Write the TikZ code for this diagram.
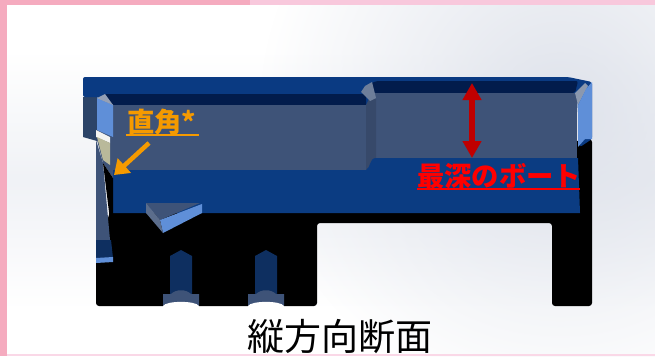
\documentclass[tikz,border=0pt]{standalone}
\usepackage{fontspec}
\newfontfamily\cjk{Noto Sans CJK JP}
\usetikzlibrary{arrows.meta,fadings}
\definecolor{pinkA}{HTML}{F5ABBF}
\definecolor{pinkB}{HTML}{F8C8DC}
\definecolor{bgGrey}{HTML}{DDE1EA}
\definecolor{rimBlue}{HTML}{0A3A82}
\definecolor{deepBlue}{HTML}{0B3C82}
\definecolor{navy}{HTML}{021C4C}
\definecolor{pocket}{HTML}{3E5378}
\definecolor{lightBlue}{HTML}{5F8FD8}
\definecolor{sideDark}{HTML}{2C4468}
\definecolor{cream}{HTML}{B9B99A}
\definecolor{boltBlue}{HTML}{0E2F60}
\definecolor{orangeT}{HTML}{F59A00}
\definecolor{redT}{HTML}{FF0000}
\definecolor{redA}{HTML}{C00000}
\tikzfading[name=softdisc, inner color=transparent!5, outer color=transparent!100]
\tikzset{
  face/.style={fill=#1, draw=none},
  label/.style={font=\cjk\bfseries\fontsize{27.3}{27.3}\selectfont, inner sep=0pt, anchor=base west},
  under/.style={line width=1.1pt},
}
\begin{document}
\begin{tikzpicture}[x=1pt,y=-1pt]
\useasboundingbox (0,0) rectangle (655,356);
% background
\fill[white] (0,0) rectangle (655,356);
\shade[top color=white, bottom color=white, middle color=bgGrey!45] (0,50) rectangle (655,310);
\begin{scope}
\clip (0,0) rectangle (655,356);
\fill[bgGrey, path fading=softdisc] (560,110) circle (300pt);
\end{scope}
% border
\fill[pinkA] (0,0) rectangle (250,5);
\fill[pinkB] (250,0) rectangle (655,5);
\fill[pinkA] (0,0) rectangle (7,356);
\fill[pinkB!70!white] (7,354) rectangle (655,356);
% black mass
\fill[black, rounded corners=3pt] (96,262) -- (113,200) -- (592,139) -- (592,306) -- (552,306) -- (552,223) -- (317,223) -- (317,306) -- (96,306) -- cycle;
\fill[black] (110,205) rectangle (592,223);
% left outer face
\fill[face=sideDark] (83,97) -- (97,97) -- (97,141) -- (83,137) -- cycle;
% top rim
\fill[face=rimBlue, rounded corners=2pt] (83,77) -- (568,77) -- (592,82) -- (592,139) -- (580,147) -- (577,95) -- (372,95) -- (372,105) -- (113,105) -- (97,97) -- (83,97) -- cycle;
% dark band of the left pocket
\fill[face=navy] (105,94) -- (366,94) -- (366,105) -- (113,105) -- cycle;
% pockets
\fill[face=pocket] (113,105) -- (372,105) -- (372,170) -- (113,170) -- cycle;
\fill[face=navy, rounded corners=2pt] (372,93) -- (370,84) -- (376,81) -- (578,81) -- (575,93) -- cycle;
\fill[face=pocket] (370,93) -- (577,93) -- (577,158) -- (370,158) -- cycle;
\fill[face=pocket!88!black] (366,105) -- (372,93) -- (376,100) -- (376,158) -- (368,170) -- (366,170) -- cycle;
\fill[face=pocket!75!white] (361,92) -- (365,86) -- (372,82) -- (376,98) -- (370,101) -- cycle;
\fill[face=pocket!60!white] (575,93) -- (585,83) -- (588,86) -- (578,105) -- cycle;
% floor
\fill[face=deepBlue] (113,170) -- (366,170) .. controls (371,168) and (369,158) .. (376,158) -- (578,158) -- (580,213) -- (113,213) -- cycle;
% right light strip
\fill[face=lightBlue] (578,105) -- (586,89) -- (592,82) -- (592,139) -- (585,139) -- (578,147) -- cycle;
% left wall pieces
\fill[face=pocket] (97,98) -- (113,105) -- (113,178) -- (103,163) -- (97,140) -- cycle;
\fill[face=lightBlue] (97,98) -- (113,105) -- (113,137) -- (97,130) -- cycle;
\fill[face=pocket!55!white] (97,98) -- (105,94) -- (113,105) -- cycle;
\fill[face=white!85!cream] (96,130) -- (110,137) -- (110,143) -- (96,137) -- cycle;
\fill[face=cream] (97,137) -- (110,143) -- (110,165) -- (103,160) -- cycle;
\fill[face=pocket] (96,140) -- (103,163) -- (110,240) -- (96,240) -- cycle;
\fill[face=black] (103,163) -- (113,178) -- (113,223) -- (110,223) -- (109,212) -- cycle;
\fill[face=boltBlue] (96,240) -- (111,240) -- (113,258) -- (96,258) -- cycle;
\fill[face=lightBlue] (96,258) -- (113,257) -- (113,262) -- (96,263) -- cycle;
% triangular insert
\fill[face=pocket] (146,203) -- (200,203) -- (160,220) -- cycle;
\fill[face=lightBlue] (160,220) -- (202,204) -- (202,213) -- (163,233) -- cycle;
\fill[face=pocket!85!white] (146,203) -- (160,220) -- (163,233) -- (146,213) -- cycle;
% screws
\foreach \c in {181,266}{
  \fill[face=boltBlue] ({\c-11},256) -- (\c,250) -- ({\c+11},256) -- ({\c+11},295) -- ({\c-11},295) -- cycle;
  \fill[face=pocket] ({\c-18},294) -- ({\c-10},294) .. controls ({\c-5},289) and ({\c+5},289) .. ({\c+10},294) -- ({\c+18},294) -- ({\c+18},306) -- ({\c-18},306) -- cycle;
  \fill[face=white] ({\c-18},306) .. controls ({\c-15},300.5) and ({\c+15},300.5) .. ({\c+18},306) -- ({\c+18},308) -- ({\c-18},308) -- cycle;
}
% annotations
\node[label, text=orangeT] (angle) at (127,132) {直角*};
\draw[orangeT, under] (126,135) -- (199,135);
\coordinate (angleTail) at (149,143);
\coordinate (angleTip) at (114,175);
\draw[orangeT, line width=4.5pt, -{Triangle[length=14pt,width=19pt]}] (angleTail) -- (angleTip);
\coordinate (depthTop) at (472,83);
\coordinate (depthBottom) at (472,158);
\draw[redA, line width=5.5pt, {Triangle[length=17pt,width=18pt]}-{Triangle[length=17pt,width=18pt]}] (depthTop) -- (depthBottom);
\node[label, text=redT] (deep) at (417,186) {最深のボート};
\draw[redT, under] (417,189) -- (580,189);
\node[font=\cjk\fontsize{37}{37}\selectfont, inner sep=0pt, anchor=base west, text=black] (title) at (247,350) {縦方向断面};
\end{tikzpicture}
\end{document}
